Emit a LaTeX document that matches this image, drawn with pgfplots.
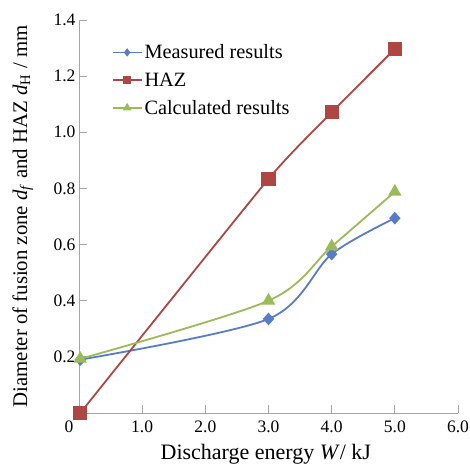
\documentclass[border=0pt]{standalone}
\usepackage{fontspec}
\setmainfont{Liberation Serif}
\usepackage{pgfplots}
\pgfplotsset{compat=1.18}
\definecolor{cMea}{HTML}{587CC6}
\definecolor{cHaz}{HTML}{AE4643}
\definecolor{cCal}{HTML}{9BBB59}
\definecolor{cAx}{HTML}{A6A6A6}
\begin{document}
\begin{tikzpicture}
\begin{axis}[
  scale only axis, width=379bp, height=393bp,
  font=\fontsize{17.5bp}{21bp}\selectfont,
  /pgf/number format/assume math mode=true,
  xmin=0, xmax=6, ymin=0, ymax=1.4,
  axis lines=left, axis line style={draw=cAx, line width=0.8pt, -},
  tick style={draw=cAx, line width=0.8pt}, tick align=inside,
  major tick length=8bp,
  xtick={1,2,3,4,5,6}, ytick={0.2,0.4,...,1.41},
  xticklabel style={yshift=-4bp, /pgf/number format/fixed, /pgf/number format/fixed zerofill, /pgf/number format/precision=1},
  yticklabel style={/pgf/number format/fixed, /pgf/number format/fixed zerofill, /pgf/number format/precision=1},
  extra x ticks={0}, extra x tick labels={0},
  extra x tick style={major tick length=0pt, xticklabel style={xshift=-10bp}},
  xlabel={Discharge energy \textit{W}/ kJ},
  ylabel={Diameter of fusion zone \textit{d}\textsubscript{\textit{f}} and HAZ \textit{d}\textsubscript{H} / mm},
  xlabel style={font=\fontsize{22bp}{24bp}\selectfont, at={(axis description cs:0.493,-0.105)}, anchor=center},
  ylabel style={font=\fontsize{20.8bp}{23bp}\selectfont, at={(axis description cs:-0.148,0.5)}, anchor=center},
  clip=false,
  legend cell align=left,
  legend style={draw=none, fill=none, at={(axis description cs:0.078,0.948)}, anchor=north west,
    row sep=8.5bp, font=\fontsize{20.3bp}{23bp}\selectfont},
  legend image code/.code={
    \draw[#1, mark=none] (0bp,0bp) -- (29bp,0bp);
    \draw[#1, only marks, mark options={scale=0.55}] plot coordinates {(14.5bp,0bp)};
  },
  every axis plot/.append style={line width=1.8bp, smooth},
]
\addplot[color=cMea, mark=diamond*, mark size=5bp, mark options={solid, xscale=1.2}]
  coordinates {(0.02,0.19) (3,0.335) (4,0.566) (5,0.694)};
\addlegendentry{Measured results}
\addplot[color=cHaz, mark=square*, mark size=6.2bp, mark options={solid}, tension=0.3]
  coordinates {(0.02,0.0) (3,0.834) (4,1.071) (5,1.297)};
\addlegendentry{HAZ}
\addplot[color=cCal, mark=triangle*, mark size=6bp, mark options={solid}]
  coordinates {(0.02,0.193) (3,0.40) (4,0.593) (5,0.788)};
\addlegendentry{Calculated results}
\end{axis}
\pgfresetboundingbox
\path ([xshift=-79bp,yshift=-53bp]current axis.south west) rectangle ([xshift=12bp,yshift=20bp]current axis.north east);
\end{tikzpicture}
\end{document}
